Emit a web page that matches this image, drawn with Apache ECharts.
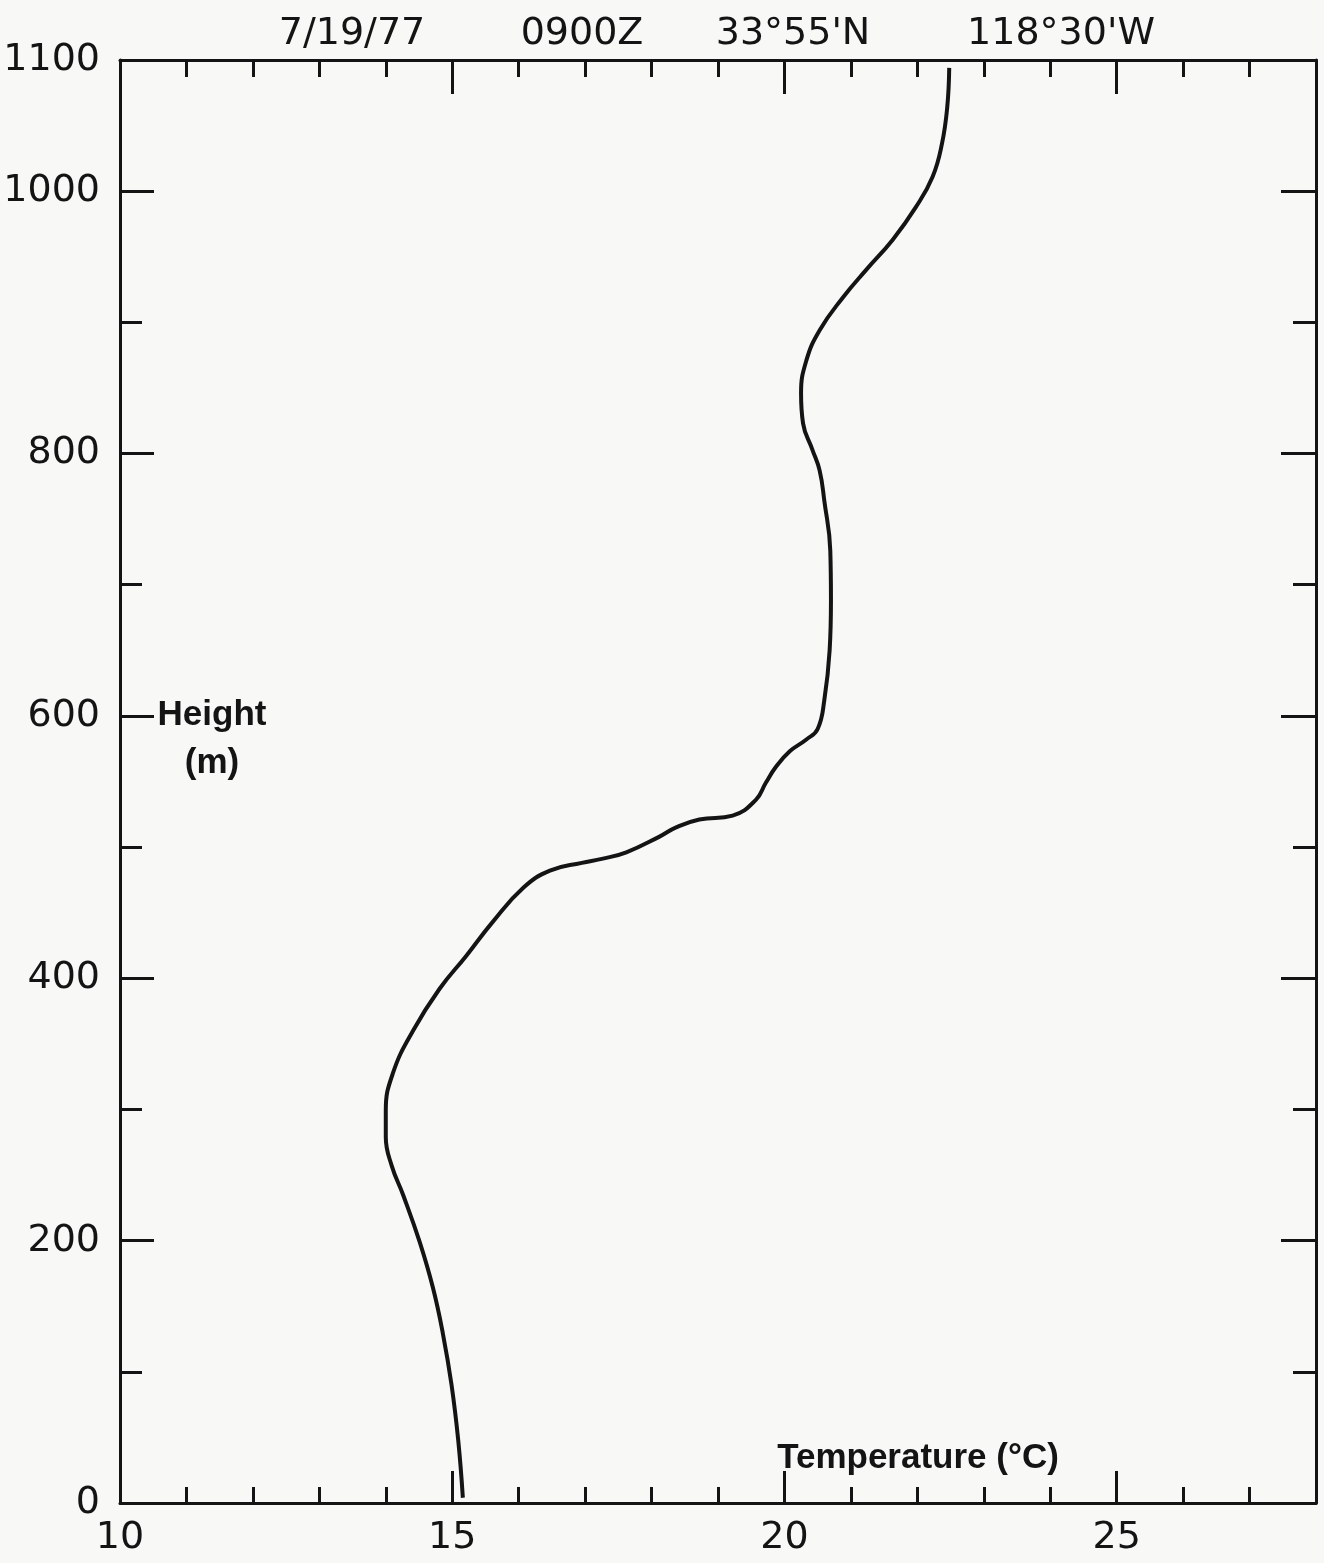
<!DOCTYPE html>
<html><head><meta charset="utf-8">
<script src="https://cdn.jsdelivr.net/npm/echarts@6/dist/echarts.min.js"></script>
<style>html,body{margin:0;padding:0;background:#f8f8f7}#c{width:1324px;height:1563px}</style>
</head><body><div id="c"></div>
<script>
// Temperature (°C) profile vs height (m) (bottom to top)
const temperature = [15.16, 15.09, 14.99, 14.86, 14.71, 14.51, 14.26, 14.09, 14.00, 14.00,
  14.11, 14.41, 14.81, 15.21, 15.61, 16.07, 16.47, 16.95, 17.25, 17.62, 18.12, 18.37,
  18.72, 19.22, 19.57, 19.72, 19.87, 20.08, 20.33, 20.50, 20.60, 20.68, 20.70, 20.69,
  20.60, 20.53, 20.42, 20.28, 20.25, 20.33, 20.53, 20.88, 21.23, 21.63, 21.98, 22.23,
  22.37, 22.45, 22.48];
const height = [4, 48, 90, 129, 164, 199, 235, 257, 279, 299,
  328, 360, 392, 417, 443, 469, 482, 488, 491, 496, 508, 515,
  521, 524, 536, 549, 561, 573, 582, 590, 612, 650, 688, 726,
  764, 787, 803, 823, 846, 871, 894, 919, 940, 963, 988, 1011,
  1036, 1064, 1094];

const xLabelValues = [10, 15, 20, 25];
const xMajorTicks = [15, 20, 25];
const xMinorTicks = [11, 12, 13, 14, 16, 17, 18, 19, 21, 22, 23, 24, 26, 27];
const yLabelValues = [0, 200, 400, 600, 800, 1000, 1100];
const yMajorTicks = [200, 400, 600, 800, 1000];
const yMinorTicks = [100, 300, 500, 700, 900];
const headerTexts = ['7/19/77', '0900Z', "33°55'N", "118°30'W"];
const xName = 'Temperature (°C)';
const yName = 'Height\n(m)';

const INK = '#141414';
const numFont = '"DejaVu Sans"';
const nameFont = '"Liberation Sans"';
const plain = v => String(v);

function xAx(pos, ticks, len, showLine, labels) {
  return {
    type: 'value', min: 10, max: 28, position: pos,
    axisLine: { show: showLine, onZero: false, lineStyle: { color: INK, width: 3 } },
    axisTick: { show: true, inside: true, length: len, customValues: ticks, lineStyle: { color: INK, width: 3 } },
    axisLabel: labels ? { show: true, customValues: labels, formatter: plain, margin: 16, color: INK, fontFamily: numFont, fontSize: 38 } : { show: false },
    splitLine: { show: false }
  };
}
function yAx(pos, ticks, len, showLine, labels) {
  return {
    type: 'value', min: 0, max: 1100, position: pos,
    axisLine: { show: showLine, onZero: false, lineStyle: { color: INK, width: 3 } },
    axisTick: { show: true, inside: true, length: len, customValues: ticks, lineStyle: { color: INK, width: 3 } },
    axisLabel: labels ? { show: true, customValues: labels, formatter: plain, margin: 20, color: INK, fontFamily: numFont, fontSize: 38 } : { show: false },
    splitLine: { show: false }
  };
}

const headerX = [352, 582, 793, 1061];
const graphic = headerTexts.map((t, i) => ({
  type: 'text', x: headerX[i], y: 34,
  style: { text: t, fill: INK, font: '38px ' + numFont, align: 'center', verticalAlign: 'middle', textAlign: 'center', textVerticalAlign: 'middle' }
}));
graphic.push({
  type: 'text', x: 212, y: 739,
  style: { text: yName, fill: INK, font: 'bold 35px ' + nameFont, lineHeight: 48, align: 'center', verticalAlign: 'middle', textAlign: 'center', textVerticalAlign: 'middle' }
});
graphic.push({
  type: 'text', x: 918, y: 1458,
  style: { text: xName, fill: INK, font: 'bold 35px ' + nameFont, align: 'center', verticalAlign: 'middle', textAlign: 'center', textVerticalAlign: 'middle' }
});

const chart = echarts.init(document.getElementById('c'), null, { renderer: 'canvas' });
chart.setOption({
  animation: false,
  backgroundColor: '#f8f8f7',
  grid: { left: 120, right: 8, top: 60, bottom: 60, containLabel: false, outerBoundsMode: 'none' },
  xAxis: [
    xAx('bottom', xMajorTicks, 32, true, xLabelValues),
    xAx('bottom', xMinorTicks, 16, false, null),
    xAx('top', xMajorTicks, 34, true, null),
    xAx('top', xMinorTicks, 17, false, null)
  ],
  yAxis: [
    yAx('left', yMajorTicks, 34, true, yLabelValues),
    yAx('left', yMinorTicks, 22, false, null),
    yAx('right', yMajorTicks, 35, true, null),
    yAx('right', yMinorTicks, 23, false, null)
  ],
  graphic: graphic,
  series: [{
    type: 'line', xAxisIndex: 0, yAxisIndex: 0,
    data: temperature.map((t, i) => [t, height[i]]),
    showSymbol: false, smooth: 0.45,
    lineStyle: { color: INK, width: 4 }
  }]
});
</script>
</body></html>
